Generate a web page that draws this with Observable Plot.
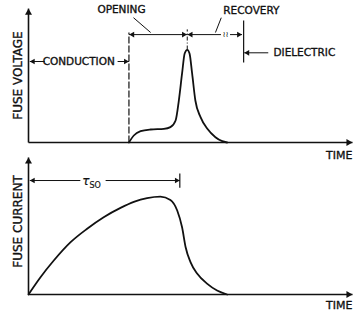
<!DOCTYPE html>
<html><head><meta charset="utf-8">
<script src="https://cdn.jsdelivr.net/npm/d3@7"></script>
<script src="https://cdn.jsdelivr.net/npm/@observablehq/plot@0.6"></script>
<style>
body{margin:0;background:#fff;}
#chart svg{display:block;overflow:visible;}
</style>
</head><body><div id="chart"></div>
<script>
// ---- data (arbitrary time units 0..100, amplitude units 0..100) ----
const voltageTime  = [31, 32.5, 34.6, 37.7, 41.8, 43.8, 45.4, 46.4, 47.4, 48.2, 49.0, 49.7, 50.5, 51.5, 53.1, 55.2, 57.7, 59.8, 61.3];
const voltageValue = [0, 5.4, 8.7, 10.0, 10.5, 11.8, 16.9, 32.3, 53.1, 68.5, 71.3, 68.5, 53.1, 32.3, 19.5, 10.5, 4.1, 1.0, 0];
const currentTime  = [0, 3.7, 7.8, 13.0, 18.1, 23.2, 28.4, 32.5, 36.6, 40.7, 43.8, 45.9, 47.4, 48.5, 50.0, 52.1, 55.2, 58.2, 61.3];
const currentValue = [0, 12.6, 24.8, 38.2, 48.0, 56.4, 63.2, 67.6, 70.4, 71.5, 69.0, 61.3, 49.1, 34.5, 23.6, 15.1, 7.8, 2.9, 0];
const phaseLabels  = ["CONDUCTION", "OPENING", "RECOVERY", "DIELECTRIC"];
const phaseBounds  = [0, 31, 49, 65.9, 66.4];   // conduction start, opening start, voltage peak, recovery end, dielectric
const tsoEnd = 46.7;
const axisLabels = ["FUSE VOLTAGE", "FUSE CURRENT"];
const timeLabel = "TIME";

const FONT = "DejaVu Sans";
const seg = (x1, y1, x2, y2, o = {}) =>
  Plot.link([{x1, y1, x2, y2}], {x1: "x1", y1: "y1", x2: "x2", y2: "y2", stroke: "#111", strokeWidth: 1, ...o});
const head = (x, y, dir, r = 2.1) => {
  const tip = Math.sqrt(Math.PI * r * r / (Math.sqrt(3) * 3)) * 2;
  const rot = {up: 0, right: 90, down: 180, left: -90}[dir];
  const dx = dir === "right" ? -tip : dir === "left" ? tip : 0;
  const dy = dir === "up" ? tip : dir === "down" ? -tip : 0;
  return Plot.dot([{x, y}], {x: "x", y: "y", symbol: "triangle", r, fill: "#111", stroke: "none", rotate: rot, dx, dy});
};
const txt = (x, y, text, o = {}) =>
  Plot.text([{x, y, text}], {x: "x", y: "y", text: "text", fontSize: 10.5, fill: "#111",
    stroke: "#111", strokeWidth: 0.35, fontFamily: FONT, ...o});

const voltage = voltageTime.map((t, i) => ({t, v: voltageValue[i]}));
const current = currentTime.map((t, i) => ({t, v: currentValue[i]}));
const [t0, tOpen, tPeak, tRecEnd, tDiel] = phaseBounds;

const topPlot = Plot.plot({
  width: 353, height: 156, margin: 0,
  x: {domain: [0, 100], range: [28, 352], axis: null},
  y: {domain: [0, 100], range: [142, 12], axis: null},
  style: {fontFamily: FONT, overflow: "visible", background: "transparent"},
  marks: [
    seg(0, 0, 100, 0, {strokeWidth: 1.6}),
    seg(0, 0, 0, 103, {strokeWidth: 1.6}),
    head(100, 0, "right", 2.6),
    head(0, 103, "up", 2.6),
    Plot.line(voltage, {x: "t", y: "v", curve: "monotone-x", strokeWidth: 1.8, stroke: "#111"}),
    // phase boundaries
    seg(tOpen, 0, tOpen, 84.6, {strokeDasharray: "7,2", strokeWidth: 1.2}),
    seg(tPeak, 71.5, tPeak, 87, {strokeDasharray: "4,2,1,2"}),
    seg(tDiel, 61.5, tDiel, 93.8, {strokeWidth: 1.2}),
    // conduction
    seg(0.4, 62.3, 5, 62.3), head(0.4, 62.3, "left"),
    seg(27.5, 62.3, tOpen, 62.3), head(tOpen, 62.3, "right"),
    txt((t0 + tOpen) / 2, 62.3, phaseLabels[0]),
    // opening
    seg(tOpen, 83, tPeak, 83), head(tOpen + 0.1, 83, "left"), head(tPeak - 0.1, 83, "right"),
    txt(28.7, 102.3, phaseLabels[1]),
    seg(32.4, 96, 37.7, 84.6),
    // recovery
    seg(tPeak, 83, 59.4, 83), seg(62.2, 83, tRecEnd, 83),
    txt(60.8, 83, "≀≀", {fontSize: 8, strokeWidth: 0}),
    head(tPeak + 0.1, 83, "left"), head(tRecEnd, 83, "right"),
    txt(68.8, 101.5, phaseLabels[2]),
    seg(59.5, 96, 57.7, 84.6),
    // dielectric
    seg(tDiel + 0.2, 69, 74, 69), head(tDiel + 0.2, 69, "left"),
    txt(75.6, 69, phaseLabels[3], {textAnchor: "start"}),
    // axis labels
    txt(100, -10, timeLabel, {textAnchor: "end", fontSize: 11}),
    txt(-3.1, 51.5, axisLabels[0], {rotate: -90, fontSize: 12})
  ]
});

const bottomPlot = Plot.plot({
  width: 353, height: 156, margin: 0,
  x: {domain: [0, 100], range: [28, 352], axis: null},
  y: {domain: [0, 100], range: [138, 1], axis: null},
  style: {fontFamily: FONT, overflow: "visible", background: "transparent"},
  marks: [
    seg(0, 0, 100, 0, {strokeWidth: 1.6}),
    seg(0, 0, 0, 100, {strokeWidth: 1.6}),
    head(100, 0, "right", 2.6),
    head(0, 100, "up", 2.6),
    Plot.line(current, {x: "t", y: "v", curve: "monotone-x", strokeWidth: 1.8, stroke: "#111"}),
    // tau_SO bracket
    seg(0.4, 83.2, 16.0, 83.2), seg(23.8, 83.2, tsoEnd, 83.2),
    head(0.4, 83.2, "left"), head(tsoEnd, 83.2, "right"),
    seg(tsoEnd, 78, tsoEnd, 88.3, {strokeWidth: 1.2}),
    txt(17.7, 82.5, "τ", {fontSize: 12, fontStyle: "italic", strokeWidth: 0.2}),
    txt(18.8, 79.5, "SO", {fontSize: 8, textAnchor: "start", strokeWidth: 0.2}),
    // axis labels
    txt(100, -8, timeLabel, {textAnchor: "end", fontSize: 11}),
    txt(-3.1, 53.3, axisLabels[1], {rotate: -90, fontSize: 12})
  ]
});

document.getElementById("chart").append(topPlot, bottomPlot);
</script>
</body></html>
